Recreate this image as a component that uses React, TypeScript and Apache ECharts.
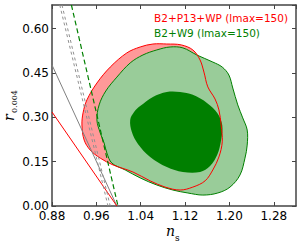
import React, { useEffect, useRef } from "react";
import * as echarts from "echarts";

// Axis settings
const xMin = 0.88;
const xMax = 1.32;
const xStep = 0.08;
const yMin = 0;
const yMax = 0.68;
const yStep = 0.15;

// Legend labels
const legendRed = "B2+P13+WP (lmax=150)";
const legendGreen = "B2+W9 (lmax=150)";

// B2+P13+WP 95% contour (n_s, r)
const redOuter: number[][] = [
  [1.062, 0.548], [1.087, 0.548], [1.113, 0.545], [1.134, 0.528], [1.147, 0.494],
  [1.154, 0.453], [1.161, 0.403], [1.174, 0.362], [1.181, 0.325], [1.185, 0.274],
  [1.187, 0.217], [1.181, 0.166], [1.170, 0.122], [1.156, 0.085], [1.134, 0.064],
  [1.111, 0.054], [1.084, 0.064], [1.057, 0.085], [1.026, 0.115], [0.990, 0.139],
  [0.967, 0.162], [0.949, 0.189], [0.938, 0.223], [0.934, 0.274], [0.936, 0.315],
  [0.943, 0.359], [0.961, 0.416], [0.985, 0.470], [1.015, 0.518], [1.039, 0.538],
];

// B2+W9 95% contour
const greenOuter: number[][] = [
  [1.069, 0.528], [1.093, 0.538], [1.116, 0.535], [1.141, 0.511], [1.170, 0.487],
  [1.187, 0.470], [1.199, 0.443], [1.206, 0.399], [1.215, 0.342], [1.224, 0.298],
  [1.232, 0.257], [1.232, 0.206], [1.228, 0.162], [1.219, 0.105], [1.201, 0.064],
  [1.179, 0.044], [1.152, 0.037], [1.125, 0.044], [1.098, 0.054], [1.069, 0.071],
  [1.039, 0.095], [1.012, 0.122], [0.988, 0.145], [0.979, 0.179], [0.974, 0.213],
  [0.967, 0.247], [0.961, 0.291], [0.965, 0.342], [0.977, 0.389], [0.997, 0.436],
  [1.021, 0.484], [1.044, 0.511],
];

// B2+W9 68% contour
const greenInner: number[][] = [
  [1.021, 0.291], [1.028, 0.318], [1.039, 0.338], [1.062, 0.369], [1.087, 0.386],
  [1.111, 0.386], [1.134, 0.376], [1.160, 0.348], [1.178, 0.315], [1.187, 0.274],
  [1.185, 0.223], [1.178, 0.173], [1.165, 0.135], [1.147, 0.115], [1.116, 0.115],
  [1.087, 0.132], [1.057, 0.166], [1.035, 0.210], [1.024, 0.250],
];

// Model prediction lines
const grayLine: number[][] = [[0.88, 0.477], [0.997, 0.0]];
const redLine: number[][] = [[0.88, 0.318], [0.997, 0.0]];
const grayDashedA: number[][] = [[0.894, 0.68], [0.981, 0.0]];
const grayDashedB: number[][] = [[0.898, 0.68], [0.985, 0.0]];
const greenDashed: number[][] = [[0.915, 0.68], [0.999, 0.0]];

function polySeries(pts: number[][], style: any, z: number) {
  return {
    type: "custom",
    coordinateSystem: "cartesian2d",
    xAxisIndex: 0,
    yAxisIndex: 0,
    z,
    silent: true,
    data: pts,
    encode: { x: 0, y: 1 },
    renderItem: (params: any, api: any) => {
      if (params.dataIndex !== 0) return null;
      const points = pts.map((p) => api.coord(p));
      return {
        type: "polygon",
        shape: { points, smooth: 0.35 },
        style,
      };
    },
  };
}

function lineSeries(pts: number[][], color: string, type: any, width: number, z: number) {
  return {
    type: "line",
    data: pts,
    showSymbol: false,
    symbol: "none",
    silent: true,
    z,
    lineStyle: { color, width, type },
  };
}

export default function App() {
  const ref = useRef<HTMLDivElement>(null);
  useEffect(() => {
    if (!ref.current) return;
    const chart = echarts.init(ref.current, null, { renderer: "svg" });
    const axisLineStyle = { color: "#444", width: 1.5 };
    const labelFont = { color: "#000", fontFamily: "DejaVu Sans", fontSize: 12 };
    chart.setOption({
      animation: false,
      grid: { left: 52, right: 6, top: 5, bottom: 43, containLabel: false },
      xAxis: [
        {
          type: "value", min: xMin, max: xMax, interval: xStep, position: "bottom",
          axisLine: { show: true, onZero: false, lineStyle: axisLineStyle },
          axisTick: { show: true, inside: true, length: 4, lineStyle: { color: "#444" } },
          axisLabel: { ...labelFont, margin: 4, showMaxLabel: false, formatter: (v: number) => v.toFixed(2) },
          splitLine: { show: false },
        },
        {
          type: "value", min: xMin, max: xMax, interval: xStep, position: "top",
          axisLine: { show: true, onZero: false, lineStyle: axisLineStyle },
          axisTick: { show: true, inside: true, length: 4, lineStyle: { color: "#444" } },
          axisLabel: { show: false },
          splitLine: { show: false },
        },
      ],
      yAxis: [
        {
          type: "value", min: yMin, max: yMax, interval: yStep, position: "left",
          axisLine: { show: true, onZero: false, lineStyle: axisLineStyle },
          axisTick: { show: true, inside: true, length: 4, lineStyle: { color: "#444" } },
          axisLabel: { ...labelFont, margin: 3, showMaxLabel: false, formatter: (v: number) => v.toFixed(2) },
          splitLine: { show: false },
        },
        {
          type: "value", min: yMin, max: yMax, interval: yStep, position: "right",
          axisLine: { show: true, onZero: false, lineStyle: axisLineStyle },
          axisTick: { show: true, inside: true, length: 4, lineStyle: { color: "#444" } },
          axisLabel: { show: false },
          splitLine: { show: false },
        },
      ],
      graphic: [
        { type: "text", left: 154, top: 12, z: 100, style: { text: legendRed, fill: "#ff0000", font: "10.5px 'DejaVu Sans'" } },
        { type: "text", left: 154, top: 27, z: 100, style: { text: legendGreen, fill: "#008000", font: "10.5px 'DejaVu Sans'" } },
        { type: "text", x: 166, y: 224, z: 100, style: { text: "n", fill: "#000", font: "italic 14px 'DejaVu Serif'" } },
        { type: "text", x: 175, y: 233, z: 100, style: { text: "s", fill: "#000", font: "9px 'DejaVu Serif'" } },
        { type: "text", x: 2, y: 121, rotation: Math.PI / 2, z: 100, style: { text: "r", fill: "#000", font: "italic 14px 'DejaVu Serif'" } },
        { type: "text", x: 10, y: 113, rotation: Math.PI / 2, z: 100, style: { text: "0.004", fill: "#000", font: "8px 'DejaVu Serif'" } },
      ],
      series: [
        polySeries(redOuter, { fill: "#ff9999", stroke: "none" }, 1),
        polySeries(greenOuter, { fill: "#99cc99", stroke: "#008000", lineWidth: 1 }, 2),
        polySeries(greenInner, { fill: "#007f00", stroke: "none" }, 3),
        polySeries(redOuter, { fill: "none", stroke: "#ff0000", lineWidth: 1 }, 4),
        lineSeries(grayLine, "#808080", "solid", 1, 5),
        lineSeries(redLine, "#ff0000", "solid", 1, 5),
        lineSeries(grayDashedA, "#909090", [3, 3], 1, 5),
        lineSeries(grayDashedB, "#909090", [3, 3], 1, 5),
        lineSeries(greenDashed, "#008000", [5, 3], 1.2, 5),
      ],
    });
    return () => chart.dispose();
  }, []);
  return (
    <div
      ref={ref}
      style={{ position: "absolute", left: 0, top: 0, width: 302, height: 249 }}
    />
  );
}
